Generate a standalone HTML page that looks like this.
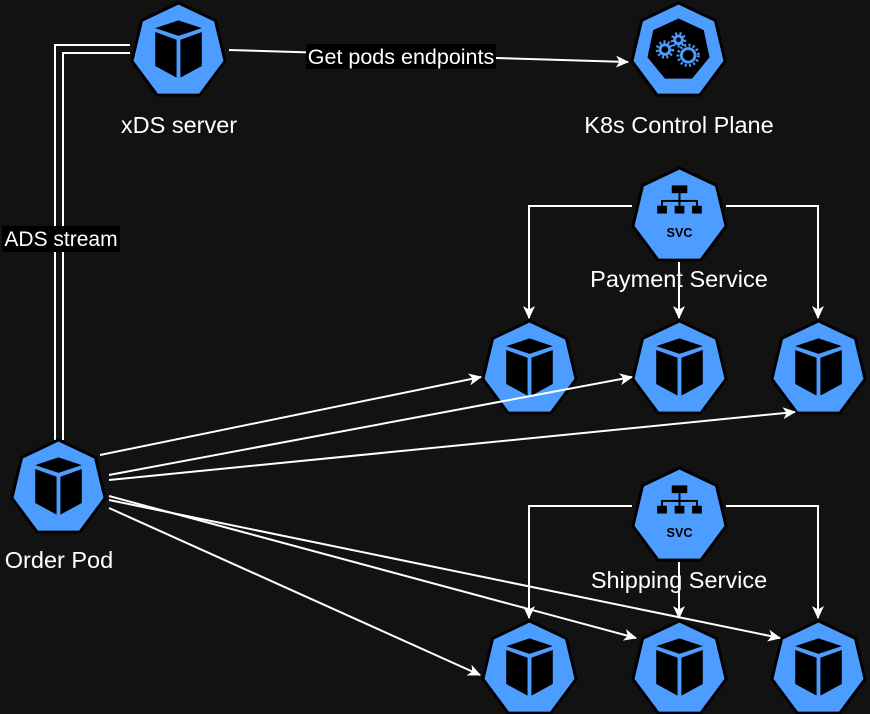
<!DOCTYPE html>
<html><head><meta charset="utf-8"><style>
html,body{margin:0;padding:0;background:#121212;}
svg{display:block;}
text{font-family:"Liberation Sans",Helvetica,Arial,sans-serif;fill:#fff;}
</style></head><body>
<svg width="870" height="714" viewBox="0 0 870 714" xmlns="http://www.w3.org/2000/svg">
<defs>
<marker id="ar" markerWidth="14" markerHeight="14" refX="12" refY="7" orient="auto" markerUnits="userSpaceOnUse">
<path d="M0,1 L13,7 L0,13 L3.5,7 Z" fill="#fff"/>
</marker>
<g id="hep"><polygon points="50,2 88,20 98,62 72,97 28,97 2,62 12,20" fill="#4d9cff" stroke="#000" stroke-width="3" stroke-linejoin="round"/></g>
<g id="pod">
<use href="#hep"/>
<polygon points="26,28 50,20 74,28 50,36" fill="#000"/>
<polygon points="26,32 48,40 48,79 26,67" fill="#000"/>
<polygon points="52,40 74,32 74,67 52,79" fill="#000"/>
</g>
<g id="svc">
<use href="#hep"/>
<rect x="42" y="20" width="16" height="8" fill="#000"/>
<rect x="49" y="28" width="2" height="8" fill="#000"/>
<rect x="31" y="35" width="38" height="2" fill="#000"/>
<rect x="31" y="35" width="2" height="6" fill="#000"/>
<rect x="49" y="35" width="2" height="6" fill="#000"/>
<rect x="67" y="35" width="2" height="6" fill="#000"/>
<rect x="27" y="41" width="10" height="8" fill="#000"/>
<rect x="45" y="41" width="10" height="8" fill="#000"/>
<rect x="63" y="41" width="10" height="8" fill="#000"/>
<text x="50" y="73" text-anchor="middle" font-size="13" font-weight="bold" style="fill:#000">SVC</text>
</g>
</defs>

<!-- ADS double line -->
<polyline points="130,45 55,45 55,440" fill="none" stroke="#fff" stroke-width="2"/>
<polyline points="130,53 63,53 63,440" fill="none" stroke="#fff" stroke-width="2"/>
<rect x="2" y="226" width="118" height="26" fill="#000"/>
<text x="61" y="246" text-anchor="middle" font-size="21">ADS stream</text>

<!-- get pods -->
<line x1="229" y1="50" x2="628" y2="62" stroke="#fff" stroke-width="2" marker-end="url(#ar)"/>
<rect x="306" y="44" width="190" height="25" fill="#000"/>
<text x="401" y="64" text-anchor="middle" font-size="21.5">Get pods endpoints</text>

<!-- nodes -->
<use href="#pod" transform="translate(130,1) scale(0.97,0.97)"/>
<text x="179" y="133" text-anchor="middle" font-size="23.5">xDS server</text>

<g transform="translate(630,1) scale(0.97,0.97)">
<use href="#hep"/>
<polygon points="50,18 76,30 82,58 64,80 36,80 18,58 24,30" fill="#000"/>
<g fill="none" stroke="#4d9cff" stroke-width="3">
<circle cx="36" cy="50" r="5"/><circle cx="50" cy="40" r="4"/><circle cx="60" cy="56" r="7"/>
</g>
<g stroke="#4d9cff" stroke-width="3" stroke-dasharray="2 2.5" fill="none">
<circle cx="36" cy="50" r="8"/><circle cx="50" cy="40" r="6.5"/><circle cx="60" cy="56" r="10.5"/>
</g>
</g>
<text x="679" y="133" text-anchor="middle" font-size="23.5">K8s Control Plane</text>

<use href="#svc" transform="translate(631,166) scale(0.97,0.97)"/>
<text x="679" y="287" text-anchor="middle" font-size="23.5">Payment Service</text>
<use href="#svc" transform="translate(631,466) scale(0.97,0.97)"/>
<text x="679" y="588" text-anchor="middle" font-size="23.5">Shipping Service</text>

<use href="#pod" transform="translate(481,319) scale(0.97,0.97)"/>
<use href="#pod" transform="translate(631,319) scale(0.97,0.97)"/>
<use href="#pod" transform="translate(770,319) scale(0.97,0.97)"/>
<use href="#pod" transform="translate(481,619) scale(0.97,0.97)"/>
<use href="#pod" transform="translate(631,619) scale(0.97,0.97)"/>
<use href="#pod" transform="translate(770,619) scale(0.97,0.97)"/>

<use href="#pod" transform="translate(10,438) scale(0.97,0.97)"/>
<text x="59" y="568" text-anchor="middle" font-size="23.5">Order Pod</text>

<!-- connectors on top -->
<g fill="none" stroke="#fff" stroke-width="2">
<polyline points="632,206 529,206 529,318" marker-end="url(#ar)"/>
<polyline points="726,206 818,206 818,318" marker-end="url(#ar)"/>
<line x1="679" y1="262" x2="679" y2="318" marker-end="url(#ar)"/>
<polyline points="632,506 529,506 529,618" marker-end="url(#ar)"/>
<polyline points="726,506 818,506 818,618" marker-end="url(#ar)"/>
<line x1="679" y1="562" x2="679" y2="618" marker-end="url(#ar)"/>
<line x1="100" y1="455" x2="481" y2="377" marker-end="url(#ar)"/>
<line x1="109" y1="475" x2="632" y2="377" marker-end="url(#ar)"/>
<line x1="109" y1="480" x2="795" y2="412" marker-end="url(#ar)"/>
<line x1="109" y1="496" x2="636" y2="638" marker-end="url(#ar)"/>
<line x1="109" y1="500" x2="780" y2="638" marker-end="url(#ar)"/>
<line x1="109" y1="508" x2="480" y2="675" marker-end="url(#ar)"/>
</g>
</svg>
</body></html>
